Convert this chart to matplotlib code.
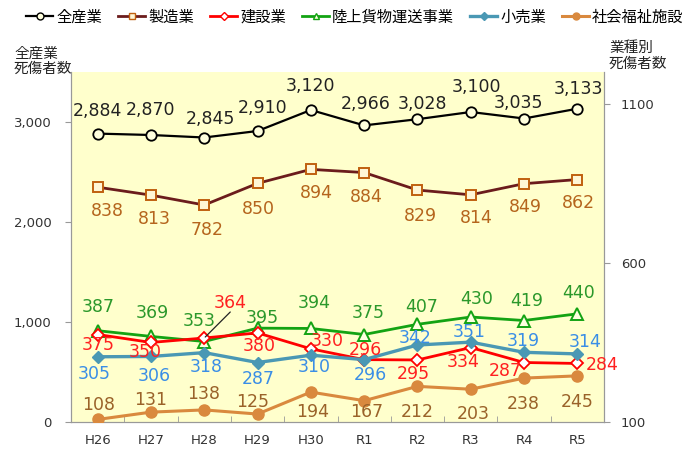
import matplotlib.pyplot as plt
from matplotlib.lines import Line2D

plt.rcParams['font.family'] = ['DejaVu Sans', 'Noto Sans CJK JP']

years = ["H26", "H27", "H28", "H29", "H30", "R1", "R2", "R3", "R4", "R5"]
total = [2884, 2870, 2845, 2910, 3120, 2966, 3028, 3100, 3035, 3133]
manufacturing = [838, 813, 782, 850, 894, 884, 829, 814, 849, 862]
construction = [375, 350, 364, 380, 330, 296, 295, 334, 287, 284]
transport = [387, 369, 353, 395, 394, 375, 407, 430, 419, 440]
retail = [305, 306, 318, 287, 310, 296, 342, 351, 319, 314]
welfare = [108, 131, 138, 125, 194, 167, 212, 203, 238, 245]

names = ["全産業", "製造業", "建設業", "陸上貨物運送事業", "小売業", "社会福祉施設"]

# label offsets in pixels (dx, dy)
off_total = [(0, 23), (0, 25), (6, 18), (5, 23), (0, 24), (2, 21), (5, 15), (6, 25), (-6, 15), (1, 20)]
off_manu = [(10, -24), (3, -24), (3, -25), (1, -26), (6, -24), (2, -24), (3, -26), (6, -23), (1, -23), (1, -23)]
off_cons = [(1, -10), (-6, -10), (26, 35), (2, -13), (16, 8), (1, 10), (-4, -14), (-8, -14), (-19, -9), (25, -2)]
off_tran = [(1, 24), (1, 23), (-5, 20), (5, 10), (3, 25), (4, 21), (4, 17), (6, 18), (3, 20), (1, 21)]
off_ret = [(-3, -17), (3, -20), (2, -14), (1, -16), (3, -12), (6, -15), (-2, 7), (-2, 10), (-1, 11), (8, 12)]
off_wel = [(1, 14), (0, 12), (-1, 16), (-5, 12), (2, -20), (3, -11), (0, -26), (2, -25), (-1, -26), (0, -26)]

fig = plt.figure(figsize=(6.91, 4.51), dpi=100)
ax = fig.add_axes([71 / 691, 29 / 451, 533 / 691, 350 / 451])
ax.set_facecolor("#ffffcc")
ax2 = ax.twinx()

x = list(range(len(years)))
ax.set_xlim(-0.5, 9.5)
ax.set_ylim(0, 3500)
ax2.set_ylim(100, 1200)

ax.plot(x, total, color="black", lw=1.6, marker="o", ms=7.5,
        mfc="#ffffdd", mec="black", mew=1.3, zorder=3)
ax2.plot(x, manufacturing, color="#6b1c1c", lw=2, marker="s", ms=7,
         mfc="#fff6d5", mec="#c0600f", mew=1.4, zorder=3)
ax2.plot(x, transport, color="#13a313", lw=2, marker="^", ms=8,
         mfc="#ffffe0", mec="#13a313", mew=1.4, zorder=3)
ax2.plot(x, construction, color="#ff0000", lw=2, marker="D", ms=6,
         mfc="white", mec="#ff0000", mew=1.3, zorder=3)
ax2.plot(x, retail, color="#4a98b4", lw=2.4, marker="D", ms=6,
         mfc="#4a98b4", mec="#4a98b4", zorder=3)
ax2.plot(x, welfare, color="#d9893e", lw=2.2, marker="o", ms=8,
         mfc="#d9893e", mec="#d9893e", zorder=3)


def labels(axis, vals, offs, color, fmt="{:d}"):
    for i, v in enumerate(vals):
        axis.annotate(fmt.format(v), xy=(i, v), xytext=offs[i], textcoords="offset pixels",
                      ha="center", va="center", fontsize=12.5, color=color, zorder=5)


labels(ax, total, off_total, "#222222", "{:,}")
labels(ax2, manufacturing, off_manu, "#b5651d")
labels(ax2, transport, off_tran, "#2b982b")
labels(ax2, retail, off_ret, "#3a8ee6")
labels(ax2, welfare, off_wel, "#9a6229")
for i, v in enumerate(construction):
    if i == 2:
        ax2.annotate(str(v), xy=(i, v), xytext=off_cons[i], textcoords="offset pixels",
                     ha="center", va="center", fontsize=12.5, color="#ff2020",
                     arrowprops=dict(arrowstyle="-", color="#222222", lw=0.9, patchA=None,
                                     shrinkA=0, shrinkB=1, relpos=(0.5, 0)))
    else:
        ax2.annotate(str(v), xy=(i, v), xytext=off_cons[i], textcoords="offset pixels",
                     ha="center", va="center", fontsize=12.5, color="#ff2020")

# axes styling
for a in (ax, ax2):
    for s in a.spines.values():
        s.set_color("#999999")
    a.spines["top"].set_visible(False)

ax.set_yticks([0, 1000, 2000, 3000])
ax.set_yticklabels(["0", "1,000", "2,000", "3,000"])
ax2.set_yticks([100, 600, 1100])
ax.tick_params(axis="y", length=4, color="#999999", pad=10, labelsize=9.5, labelcolor="#333333")
ax2.tick_params(axis="y", length=4, color="#999999", pad=8, labelsize=9.5, labelcolor="#333333")
ax.set_xticks(x)
ax.set_xticklabels(years)
ax.set_xticks([i + 0.5 for i in range(9)], minor=True)
ax.tick_params(axis="x", which="major", length=0, pad=9, labelsize=9.5, labelcolor="#333333")
ax.tick_params(axis="x", which="minor", length=4, direction="in", color="#999999")

fig.text(14 / 691, 1 - 61 / 451, "全産業\n死傷者数", fontsize=10.5, family=["Noto Sans CJK JP"],
         ha="left", va="center", linespacing=1.1, color="#222222")
fig.text(609 / 691, 1 - 56 / 451, "業種別\n死傷者数", fontsize=10.5, family=["Noto Sans CJK JP"],
         ha="left", va="center", linespacing=1.1, color="#222222")

handles = [
    Line2D([], [], color="black", lw=1.6, marker="o", ms=5, mfc="#ffffdd", mec="black"),
    Line2D([], [], color="#6b1c1c", lw=2, marker="s", ms=5, mfc="#fff6d5", mec="#c0600f"),
    Line2D([], [], color="#ff0000", lw=2, marker="D", ms=4, mfc="white", mec="#ff0000"),
    Line2D([], [], color="#13a313", lw=2, marker="^", ms=5, mfc="#ffffe0", mec="#13a313"),
    Line2D([], [], color="#4a98b4", lw=2.4, marker="D", ms=4, mfc="#4a98b4", mec="#4a98b4"),
    Line2D([], [], color="#d9893e", lw=2.2, marker="o", ms=5, mfc="#d9893e", mec="#d9893e"),
]
fig.legend(handles, names, loc="center", bbox_to_anchor=(355 / 691, 1 - 17 / 451), ncol=6,
           frameon=False, handlelength=1.77, handletextpad=0.2, columnspacing=1.05,
           borderpad=0, prop={"family": ["Noto Sans CJK JP"], "size": 11})

fig.savefig("out.png", dpi=100)
